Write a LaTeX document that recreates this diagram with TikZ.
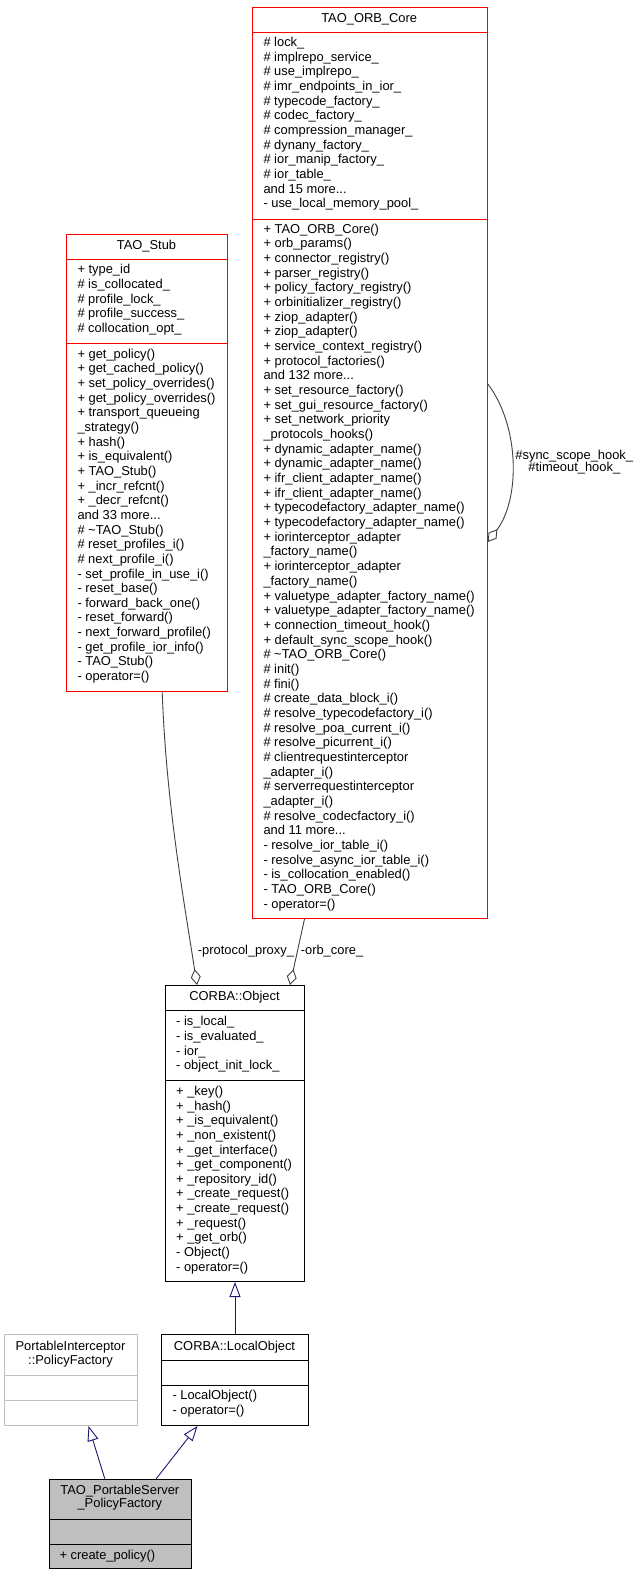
\documentclass[tikz,border=0pt]{standalone}
\usepackage{fontspec}
\setmainfont{Liberation Sans}
\usetikzlibrary{arrows.meta}
\definecolor{edgegray}{HTML}{404040}
\definecolor{navyedge}{HTML}{191970}
\definecolor{boxgray}{HTML}{BFBFBF}
\newcommand\mydots{...}
\newcommand\mylines[4]{%
  \foreach \t [count=\i from 0] in {#4} {\node[txt] at (#1, #2+\i*#3) {\t};}%
}
\begin{document}
\begin{tikzpicture}[x=1pt,y=-1pt,
  txt/.style={anchor=west, inner sep=0pt, font=\fontsize{12.9}{14.65}\selectfont, text height=9.2pt, text depth=2.7pt},
  ttl/.style={anchor=center, inner sep=0pt, font=\fontsize{12.9}{14.65}\selectfont, text height=9.2pt, text depth=2.7pt},
  box/.style={draw=#1, line width=1pt, inner sep=0pt, anchor=north west},
  aggend/.style={draw=edgegray, line width=0.9pt, -{Diamond[open,length=16pt,width=10pt]}},
  inh/.style={draw=navyedge, line width=0.9pt, -{Triangle[open,length=15pt,width=11pt]}}
]
\useasboundingbox (0,0) rectangle (640,1576);
\fill[white] (0,0) rectangle (640,1576);

% ---------- TAO_ORB_Core ----------
\node[box=red, minimum width=235pt, minimum height=911pt] (orb) at (251.7,7) {};
\draw[red, line width=1pt] (251.7,32.3) -- (486.7,32.3);
\draw[red, line width=1pt] (251.7,219) -- (486.7,219);
\node[ttl] (orbt) at (369.2,18.8) {TAO\_ORB\_Core};
\mylines{263.3}{43.3}{14.65}{{\# lock\_},{\# implrepo\_service\_},{\# use\_implrepo\_},{\# imr\_endpoints\_in\_ior\_},{\# typecode\_factory\_},{\# codec\_factory\_},{\# compression\_manager\_},{\# dynany\_factory\_},{\# ior\_manip\_factory\_},{\# ior\_table\_},{and 15 more\mydots},{- use\_local\_memory\_pool\_}}
\mylines{263.3}{230}{14.67}{{+ TAO\_ORB\_Core()},{+ orb\_params()},{+ connector\_registry()},{+ parser\_registry()},{+ policy\_factory\_registry()},{+ orbinitializer\_registry()},{+ ziop\_adapter()},{+ ziop\_adapter()},{+ service\_context\_registry()},{+ protocol\_factories()},{and 132 more\mydots},{+ set\_resource\_factory()},{+ set\_gui\_resource\_factory()},{+ set\_network\_priority},{\_protocols\_hooks()},{+ dynamic\_adapter\_name()},{+ dynamic\_adapter\_name()},{+ ifr\_client\_adapter\_name()},{+ ifr\_client\_adapter\_name()},{+ typecodefactory\_adapter\_name()},{+ typecodefactory\_adapter\_name()},{+ iorinterceptor\_adapter},{\_factory\_name()},{+ iorinterceptor\_adapter},{\_factory\_name()},{+ valuetype\_adapter\_factory\_name()},{+ valuetype\_adapter\_factory\_name()},{+ connection\_timeout\_hook()},{+ default\_sync\_scope\_hook()},{\# \textasciitilde TAO\_ORB\_Core()},{\# init()},{\# fini()},{\# create\_data\_block\_i()},{\# resolve\_typecodefactory\_i()},{\# resolve\_poa\_current\_i()},{\# resolve\_picurrent\_i()},{\# clientrequestinterceptor},{\_adapter\_i()},{\# serverrequestinterceptor},{\_adapter\_i()},{\# resolve\_codecfactory\_i()},{and 11 more\mydots},{- resolve\_ior\_table\_i()},{- resolve\_async\_ior\_table\_i()},{- is\_collocation\_enabled()},{- TAO\_ORB\_Core()},{- operator=()}}

% ---------- TAO_Stub ----------
\node[box=red, minimum width=161.6pt, minimum height=457pt] (stub) at (65.7,234) {};
\draw[red, line width=1pt] (65.7,259) -- (227.3,259);
\draw[red, line width=1pt] (65.7,343.3) -- (227.3,343.3);
\node[ttl] (stubt) at (146.5,246.2) {TAO\_Stub};
\mylines{77.3}{270.7}{14.65}{{+ type\_id},{\# is\_collocated\_},{\# profile\_lock\_},{\# profile\_success\_},{\# collocation\_opt\_}}
\mylines{77.3}{355}{14.65}{{+ get\_policy()},{+ get\_cached\_policy()},{+ set\_policy\_overrides()},{+ get\_policy\_overrides()},{+ transport\_queueing},{\_strategy()},{+ hash()},{+ is\_equivalent()},{+ TAO\_Stub()},{+ \_incr\_refcnt()},{+ \_decr\_refcnt()},{and 33 more\mydots},{\# \textasciitilde TAO\_Stub()},{\# reset\_profiles\_i()},{\# next\_profile\_i()},{- set\_profile\_in\_use\_i()},{- reset\_base()},{- forward\_back\_one()},{- reset\_forward()},{- next\_forward\_profile()},{- get\_profile\_ior\_info()},{- TAO\_Stub()},{- operator=()}}

% ---------- CORBA::Object ----------
\node[box=black, minimum width=139pt, minimum height=296pt] (obj) at (165,985) {};
\draw[black, line width=1pt] (165,1010.3) -- (304,1010.3);
\draw[black, line width=1pt] (165,1080) -- (304,1080);
\node[ttl] (objt) at (234.5,997.2) {CORBA::Object};
\mylines{176}{1022.7}{14.65}{{- is\_local\_},{- is\_evaluated\_},{- ior\_},{- object\_init\_lock\_}}
\mylines{176}{1092.3}{14.62}{{+ \_key()},{+ \_hash()},{+ \_is\_equivalent()},{+ \_non\_existent()},{+ \_get\_interface()},{+ \_get\_component()},{+ \_repository\_id()},{+ \_create\_request()},{+ \_create\_request()},{+ \_request()},{+ \_get\_orb()},{- Object()},{- operator=()}}

% ---------- PortableInterceptor::PolicyFactory ----------
\node[box=boxgray, minimum width=132.4pt, minimum height=90.7pt] (pi) at (4.3,1334.3) {};
\draw[boxgray, line width=1pt] (4.3,1375) -- (136.7,1375);
\draw[boxgray, line width=1pt] (4.3,1400) -- (136.7,1400);
\node[ttl] (pit1) at (70.5,1347.2) {PortableInterceptor};
\node[ttl] (pit2) at (70.5,1361.5) {::PolicyFactory};

% ---------- CORBA::LocalObject ----------
\node[box=black, minimum width=146.4pt, minimum height=90.7pt] (lo) at (161.3,1334.3) {};
\draw[black, line width=1pt] (161.3,1360) -- (307.7,1360);
\draw[black, line width=1pt] (161.3,1385.7) -- (307.7,1385.7);
\node[ttl] (lot) at (234.5,1347.2) {CORBA::LocalObject};
\mylines{172.3}{1396.7}{14.8}{{- LocalObject()},{- operator=()}}

% ---------- TAO_PortableServer_PolicyFactory ----------
\node[box=black, fill=boxgray, minimum width=142.3pt, minimum height=89.6pt] (pf) at (48.7,1478.7) {};
\draw[black, line width=1pt] (48.7,1519) -- (191,1519);
\draw[black, line width=1pt] (48.7,1544.3) -- (191,1544.3);
\node[ttl] (pft1) at (119.85,1491.2) {TAO\_PortableServer};
\node[ttl] (pft2) at (119.85,1504.5) {\_PolicyFactory};
\mylines{59.3}{1556}{14.65}{{+ create\_policy()}}

% ---------- connectors ----------
\draw[aggend] ([xshift=15.2pt]stub.south) .. controls +(4,110) and +(-14,-90) .. ([xshift=-38pt]obj.north);
\draw[aggend] ([xshift=-65.2pt]orb.south) -- ([xshift=55pt]obj.north);
\draw[aggend] ([yshift=79.2pt]orb.east) .. controls +(32.4,42.7) and +(32.4,-42.7) .. ([yshift=-79pt]orb.east);

\draw[inh] (lo.north) -- (obj.south);
\draw[inh] ([xshift=-15.55pt]pf.north) -- ([xshift=17.5pt]pi.south);
\draw[inh] ([xshift=35.85pt]pf.north) -- ([xshift=-37.5pt]lo.south);

% ---------- labels ----------
\node[ttl] (l1) at (245.9,951.5) {-protocol\_proxy\_};
\node[ttl] (l2) at (332,951.5) {-orb\_core\_};
\node[ttl] (l3) at (574.3,456.2) {\#sync\_scope\_hook\_};
\node[ttl] (l4) at (574.3,467.8) {\#timeout\_hook\_};
\end{tikzpicture}
\end{document}
